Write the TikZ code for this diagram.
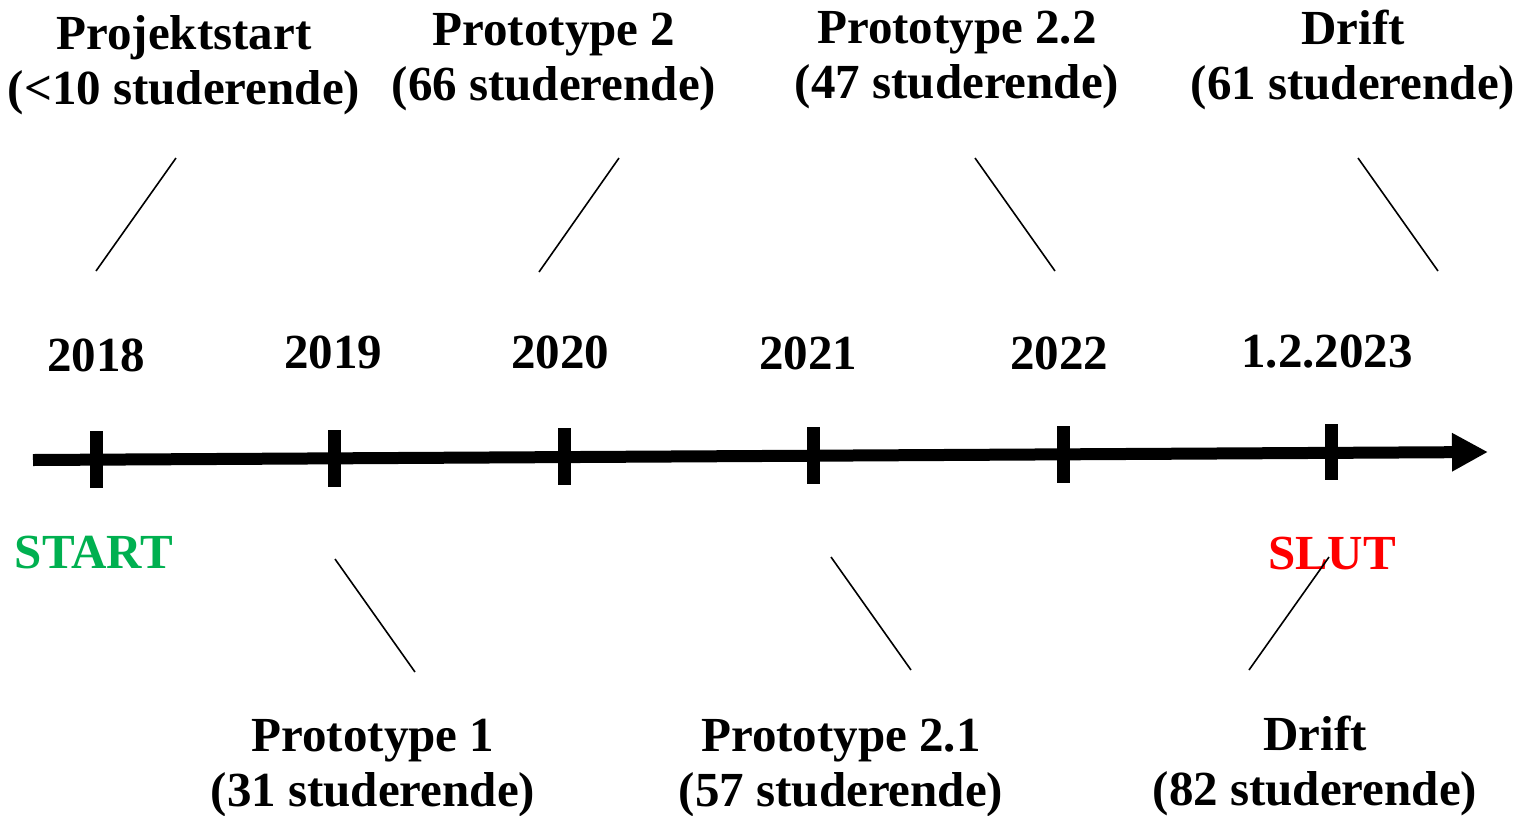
\documentclass[tikz,border=0pt]{standalone}
\usepackage{fontspec}
\setmainfont{Liberation Serif}
\usepackage{tikz}
\usetikzlibrary{arrows.meta}

\definecolor{startgreen}{HTML}{00B050}
\definecolor{slutred}{HTML}{FF0000}

\begin{document}
\begin{tikzpicture}[x = 1pt, y = -1pt,
    every node/.style = { inner sep = 0pt, font = \fontsize{49}{55}\selectfont\bfseries },
    milestone/.style = { align = center },
    year/.style = { anchor = base },
    tick/.style = { line width = 13pt },
    link/.style = { line width = 1.6pt },
    axis/.style = { line width = 12pt, -{Triangle[length = 36pt, width = 36pt]} }]
  \useasboundingbox (0,0) rectangle (1519,815);

  % time axis
  \coordinate (axis start) at (33,460);
  \coordinate (axis end) at (1488,452);
  \draw [axis] (axis start) -- (axis end);
  \draw [tick] (96,431) -- (96,488);
  \draw [tick] (334,430) -- (334,487);
  \draw [tick] (564,428) -- (564,485);
  \draw [tick] (813,427) -- (813,484);
  \draw [tick] (1063,426) -- (1063,483);
  \draw [tick] (1331,424) -- (1331,480);

  % years
  \node [year] (y2018) at (96,371) { 2018 };
  \node [year] (y2019) at (333,368) { 2019 };
  \node [year] (y2020) at (560,368) { 2020 };
  \node [year] (y2021) at (808,369) { 2021 };
  \node [year] (y2022) at (1059,369) { 2022 };
  \node [year] (y2023) at (1327,367) { 1.2.2023 };

  \node [year, text = startgreen] (start) at (94,568) { START };
  \node [year, text = slutred] (slut) at (1332,569) { SLUT };

  % milestones above
  \node [milestone] (projektstart) at (184,65) { Projektstart \\ (<10 studerende) };
  \node [milestone] (proto2) at (554,62) { Prototype 2 \\ (66 studerende) };
  \node [milestone] (proto22) at (957,60) { Prototype 2.2 \\ (47 studerende) };
  \node [milestone] (drift top) at (1353,60) { Drift \\ (61 studerende) };

  % milestones below
  \node [milestone] (proto1) at (373,768) { Prototype 1 \\ (31 studerende) };
  \node [milestone] (proto21) at (841,768) { Prototype 2.1 \\ (57 studerende) };
  \node [milestone] (drift bottom) at (1315,766) { Drift \\ (82 studerende) };

  % pointers
  \coordinate (p1a) at (176,158);   \coordinate (p1b) at (96,271);
  \coordinate (p2a) at (619,158);   \coordinate (p2b) at (539,272);
  \coordinate (p3a) at (975,158);   \coordinate (p3b) at (1055,271);
  \coordinate (p4a) at (1358,158);  \coordinate (p4b) at (1438,271);
  \coordinate (q1a) at (335,559);   \coordinate (q1b) at (415,672);
  \coordinate (q2a) at (831,557);   \coordinate (q2b) at (911,670);
  \coordinate (q3a) at (1329,557);  \coordinate (q3b) at (1249,670);
  \draw [link] (p1a) -- (p1b);
  \draw [link] (p2a) -- (p2b);
  \draw [link] (p3a) -- (p3b);
  \draw [link] (p4a) -- (p4b);
  \draw [link] (q1a) -- (q1b);
  \draw [link] (q2a) -- (q2b);
  \draw [link] (q3a) -- (q3b);
\end{tikzpicture}
\end{document}
